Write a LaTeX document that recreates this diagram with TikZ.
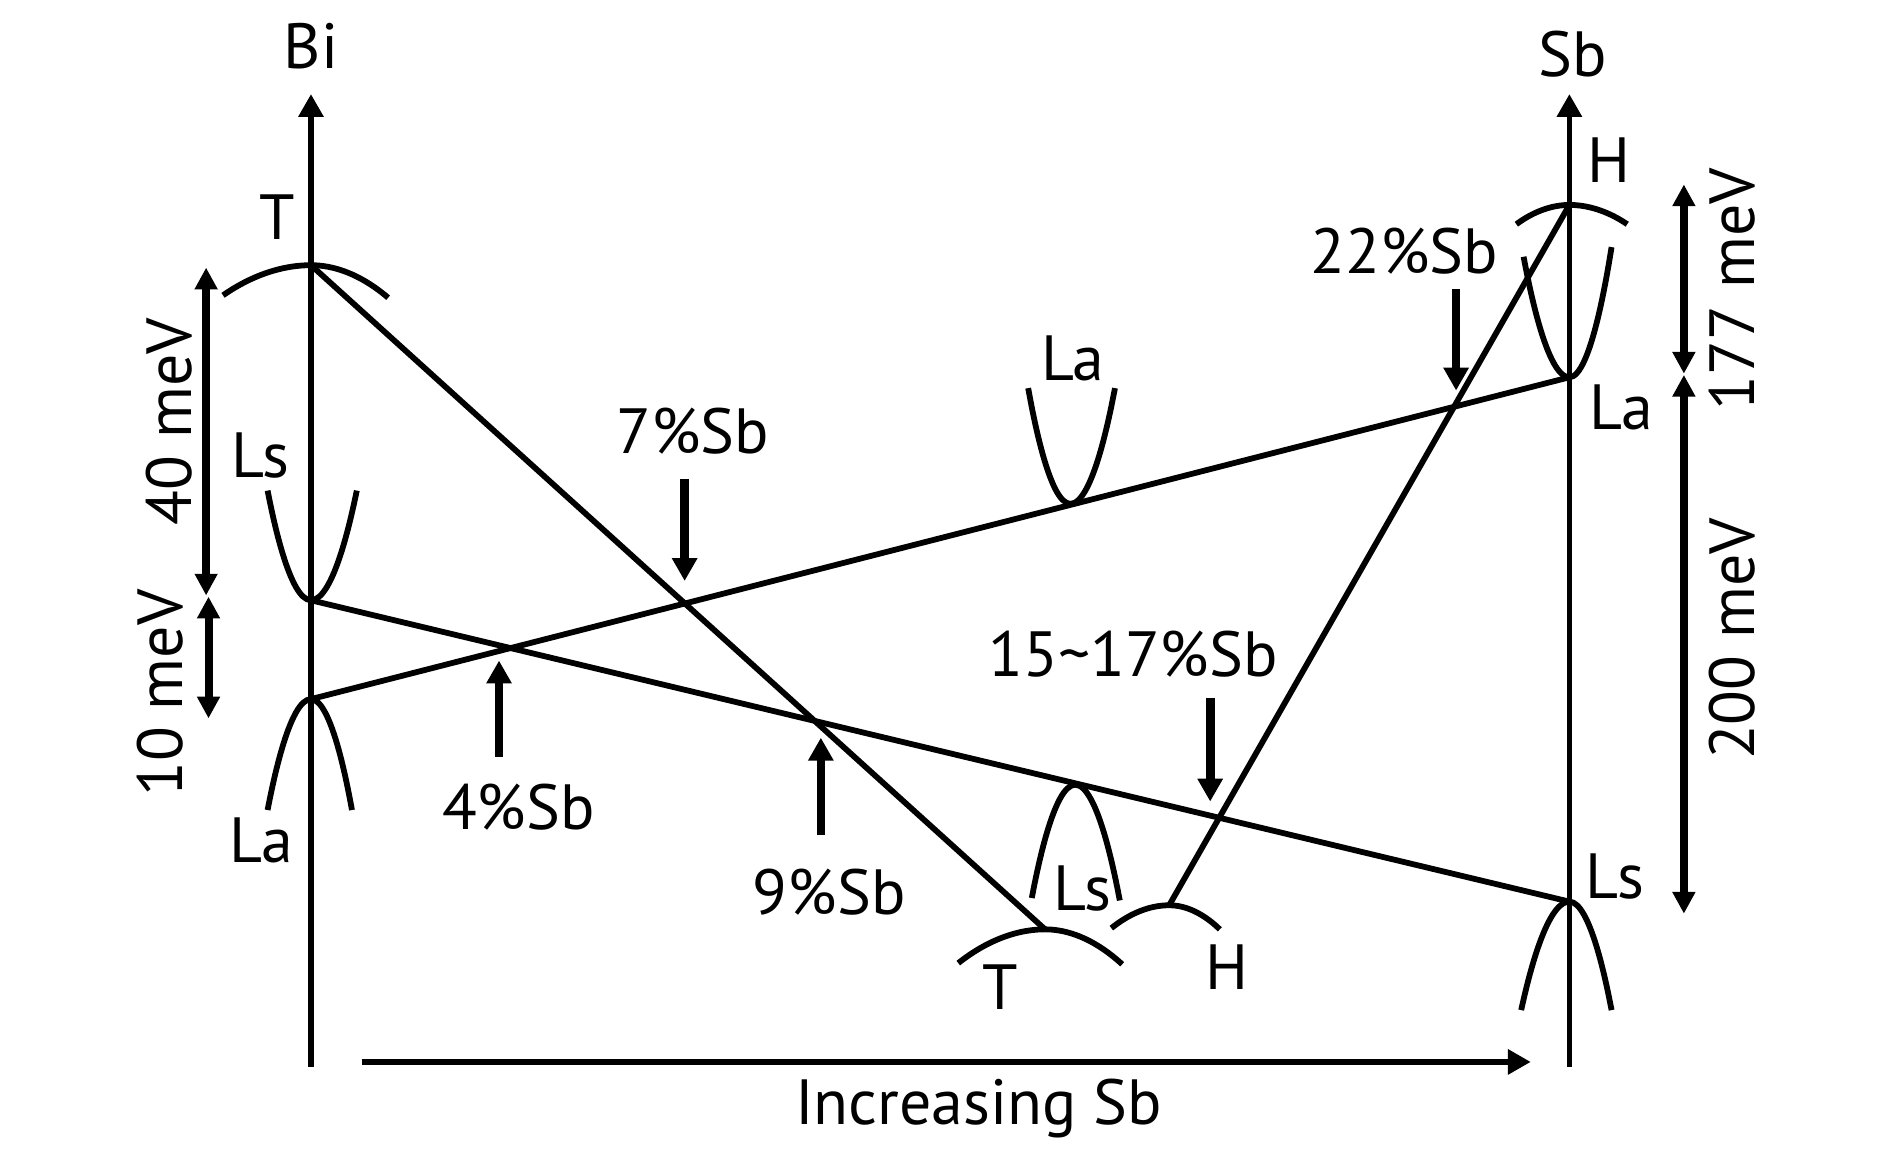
\documentclass[tikz,border=0pt]{standalone}
\usepackage{fontspec}
\setmainfont{PT Sans}
\usepackage{tikz}
\usetikzlibrary{arrows.meta}

\tikzset{
  band/.style={line width=2.4pt},
  axisarr/.style={line width=2.4pt,-{Triangle[length=9.5pt,width=10pt]}},
  markarr/.style={line width=3.6pt,-{Triangle[length=9.5pt,width=10pt]}},
  dimarr/.style={line width=3.3pt,{Triangle[length=9pt,width=9pt]}-{Triangle[length=9pt,width=9pt]}},
  lbl/.style={font=\fontsize{26.5}{31}\selectfont,inner sep=0pt},
}

\begin{document}
\begin{tikzpicture}[x=0.5pt,y=0.5pt,yscale=-1,xscale=1]
\useasboundingbox (0,0) rectangle (1568,960);

%Axes
\coordinate (BiBot) at (258,885);
\coordinate (BiTop) at (258,78);
\coordinate (SbBot) at (1302,885);
\coordinate (SbTop) at (1302,78);
\draw [axisarr] (BiBot) -- (BiTop);
\draw [axisarr] (SbBot) -- (SbTop);

%Band extrema
\coordinate (TBi) at (258,220);
\coordinate (LsBi) at (258,498);
\coordinate (LaBi) at (258,580);
\coordinate (HSb) at (1302,170);
\coordinate (LaSb) at (1302,313);
\coordinate (LsSb) at (1302,748);
\coordinate (Tlow) at (867,771);
\coordinate (Hlow) at (970,751);
\coordinate (Lamid) at (888,418);
\coordinate (Lsmid) at (892,651);

%Band lines
\draw [band] (TBi) -- (Tlow);
\draw [band] (LsBi) -- (LsSb);
\draw [band] (LaBi) -- (LaSb);
\draw [band] (Hlow) -- (HSb);

%Band shapes at Bi
\draw [band] (185,245) parabola bend (TBi) (322,247);
\draw [band] (222,407) parabola bend (LsBi) (296,407);
\draw [band] (222,672) parabola bend (LaBi) (292,672);
%Band shapes at Sb
\draw [band] (1258,186) parabola bend (HSb) (1350,186);
\draw [band] (1264,213) parabola bend (LaSb) (1337,205);
\draw [band] (1262,838) parabola bend (LsSb) (1337,838);
%Band shapes in between
\draw [band] (853,322) parabola bend (Lamid) (925,322);
\draw [band] (856,745) parabola bend (Lsmid) (929,747);
\draw [band] (795,799) parabola bend (Tlow) (931,800);
\draw [band] (922,770) parabola bend (Hlow) (1012,771);

%Crossing markers
\coordinate (m7a) at (568,397);  \coordinate (m7b) at (568,482);
\coordinate (m4a) at (414,628);  \coordinate (m4b) at (414,548);
\coordinate (m9a) at (681,693);  \coordinate (m9b) at (681,612);
\coordinate (m15a) at (1004,579); \coordinate (m15b) at (1004,665);
\coordinate (m22a) at (1208,240); \coordinate (m22b) at (1208,324);
\draw [markarr] (m7a) -- (m7b);
\draw [markarr] (m4a) -- (m4b);
\draw [markarr] (m9a) -- (m9b);
\draw [markarr] (m15a) -- (m15b);
\draw [markarr] (m22a) -- (m22b);

%Energy gaps
\coordinate (g40a) at (171,222); \coordinate (g40b) at (171,494);
\coordinate (g10a) at (173,495); \coordinate (g10b) at (173,596);
\coordinate (g177a) at (1397,153); \coordinate (g177b) at (1397,310);
\coordinate (g200a) at (1397,311); \coordinate (g200b) at (1397,758);
\draw [dimarr] (g40a) -- (g40b);
\draw [dimarr] (g10a) -- (g10b);
\draw [dimarr] (g177a) -- (g177b);
\draw [dimarr] (g200a) -- (g200b);

%Composition
\coordinate (SbA) at (300,881);
\coordinate (SbB) at (1270,881);
\draw [axisarr] (SbA) -- (SbB);

% Text Node
\node [lbl] (tBi) at (258,38) {Bi};
\node [lbl] (tSb) at (1305,45) {Sb};
\node [lbl] (tTBi) at (230,180) {T};
\node [lbl] (tLsBi) at (216,378) {Ls};
\node [lbl] (tLaBi) at (217,697) {La};
\node [lbl] (tHSb) at (1335,133) {H};
\node [lbl] (tLaSb) at (1345,338) {La};
\node [lbl] (tLsSb) at (1340,727) {Ls};
\node [lbl] (tLamid) at (890,297) {La};
\node [lbl] (tLsmid) at (898,737) {Ls};
\node [lbl] (tTlow) at (830,819) {T};
\node [lbl] (tHlow) at (1018,802) {H};
% Text Node
\node [lbl] (t7) at (575,358) {7\%Sb};
\node [lbl] (t4) at (430,670) {4\%Sb};
\node [lbl] (t9) at (688,740) {9\%Sb};
\node [lbl] (t15) at (940,543) {15\textasciitilde17\%Sb};
\node [lbl] (t22) at (1165,208) {22\%Sb};
% Text Node
\node [lbl,rotate=90] (t40) at (140,350) {40 meV};
\node [lbl,rotate=90] (t10) at (133,575) {10 meV};
\node [lbl,rotate=90] (t177) at (1437,240) {177 meV};
\node [lbl,rotate=90] (t200) at (1437,530) {200 meV};
\node [lbl] (tInc) at (812,920) {Increasing Sb};

\end{tikzpicture}
\end{document}
